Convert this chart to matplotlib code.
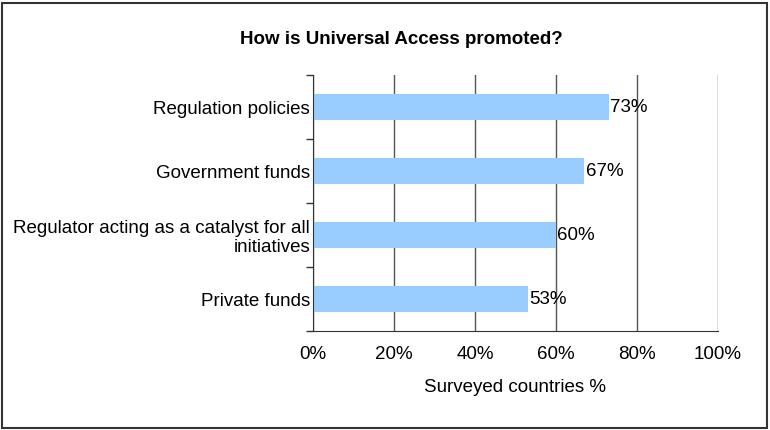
import numpy as np
import matplotlib.pyplot as plt
from matplotlib.patches import Rectangle

# survey results, top to bottom
categories = ['Regulation policies', 'Government funds',
              'Regulator acting as a catalyst for all\ninitiatives', 'Private funds']
shares = [73, 67, 60, 53]
x_ticks = [0, 20, 40, 60, 80, 100]

plt.rcParams['font.family'] = ['Liberation Sans', 'DejaVu Sans']
fs = 13.5

fig = plt.figure(figsize=(7.7, 4.3), dpi=100)
ax = fig.add_axes([313 / 770, 1 - 331 / 430, 405 / 770, 256 / 430])

ypos = np.arange(len(categories))[::-1]
ax.barh(ypos, shares, height=0.4, color='#99CCFF', zorder=3)
for y, v in zip(ypos, shares):
    ax.text(v + 0.3, y, '%d%%' % v, va='center', ha='left', fontsize=fs, zorder=4)

ax.set_xlim(0, 100)
ax.set_ylim(-0.5, len(categories) - 0.5)
ax.set_xticks(x_ticks)
ax.set_xticklabels(['%d%%' % t for t in x_ticks], fontsize=fs)
ax.tick_params(axis='x', length=0, pad=11)

# category labels centred on bars, tick marks on the boundaries
ax.set_yticks(ypos)
ax.set_yticklabels(categories, fontsize=fs, ha='right', linespacing=1.15)
ax.tick_params(axis='y', which='major', length=0, pad=2)
ax.set_yticks(np.arange(len(categories) + 1) - 0.5, minor=True)
ax.tick_params(axis='y', which='minor', length=5, width=1, color='#333333', direction='out')

ax.xaxis.grid(True, color='#555555', linewidth=1, zorder=0)
ax.set_axisbelow(True)
for side in ['top', 'right']:
    ax.spines[side].set_visible(False)
for side in ['left', 'bottom']:
    ax.spines[side].set_color('#333333')
    ax.spines[side].set_zorder(5)

ax.set_xlabel('Surveyed countries %', fontsize=fs, labelpad=11)
fig.text(401 / 770, 1 - 40 / 430, 'How is Universal Access promoted?',
         ha='center', va='center', fontsize=fs, fontweight='bold')

# frame around the whole chart
fig.patches.append(Rectangle((2 / 770, 2 / 430), 765 / 770, 425 / 430,
                             transform=fig.transFigure, fill=False,
                             edgecolor='#333333', linewidth=1.5))

fig.savefig('out.png', dpi=100)
